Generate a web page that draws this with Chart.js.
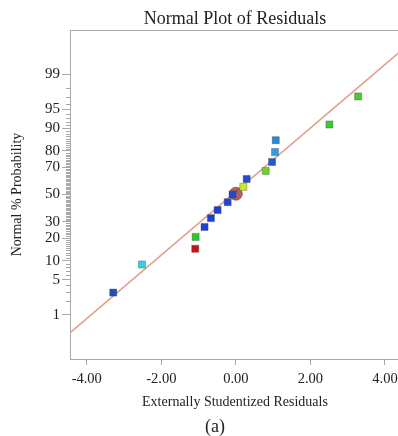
<html>
<head>
	<meta charset="utf-8">
	<title> Normal Plot of Residuals </title>
	<script src="https://cdn.jsdelivr.net/npm/chart.js@4.4.0/dist/chart.umd.min.js"></script>
	<style>
		body { margin: 0; background: #fff; }
		#wrap { position: relative; width: 398px; height: 436px; overflow: hidden; }
		#myChart { position: absolute; left: 0; top: 0; }
		.txt { position: absolute; font-family: "Liberation Serif", "Times New Roman", serif; color: #222; white-space: nowrap; transform: translate(-50%, -50%); }
	</style>
</head>
<body>
	<div id="wrap">
		<canvas id="myChart" width="420" height="436"></canvas>
		<div class="txt" style="left: 235px; top: 18px; font-size: 18px;">Normal Plot of Residuals</div>
		<div class="txt" style="left: 235px; top: 402px; font-size: 14px;">Externally Studentized Residuals</div>
		<div class="txt" style="left: 215px; top: 426px; font-size: 18px;">(a)</div>
	</div>

	<script>

		// Residus (tries) et probabilite normale (%)
		var residuals = [-3.29, -2.52, -1.09, -1.08, -0.84, -0.67, -0.49, -0.22, -0.09, 0.20, 0.29, 0.80, 0.97, 1.05, 1.07, 2.51, 3.28];
		var probability = [2.9, 8.8, 14.7, 20.6, 26.5, 32.4, 38.2, 44.1, 50.0, 55.9, 61.8, 67.6, 73.5, 79.4, 85.3, 91.2, 97.1];
		var pointColors = ['#1d4fc4', '#2fd3e6', '#c81414', '#2ec82e', '#1f3fd6', '#1f3fd6', '#1f3fd6', '#1f44d6', '#1f48d6',
			'#c4ec24', '#1f4ad6', '#6cd22a', '#1f5ad8', '#2a9ee8', '#2a86e0', '#3cc83c', '#4cc82c'];

		// point selectionne (cercle)
		var selectedX = [0.0];
		var selectedProb = [50.6];

		// droite normale
		var lineX = [-4.45, 4.94];
		var lineProb = [0.375, 99.90];

		// axes
		var xTicks = [-4, -2, 0, 2, 4];
		var yTickProbs = [1, 5, 10, 20, 30, 50, 70, 80, 90, 95, 99];
		var yTickLabels = ['1', '5', '10', '20', '30', '50', '70', '80', '90', '95', '99'];

		var fontFamily = '"Liberation Serif", "Times New Roman", serif';

		// inverse de la loi normale (Acklam)
		function probit(p) {
			var a = [-3.969683028665376e+01, 2.209460984245205e+02, -2.759285104469687e+02, 1.383577518672690e+02, -3.066479806614716e+01, 2.506628277459239e+00];
			var b = [-5.447609879822406e+01, 1.615858368580409e+02, -1.556989798598866e+02, 6.680131188771972e+01, -1.328068155288572e+01];
			var c = [-7.784894002430293e-03, -3.223964580411365e-01, -2.400758277161838e+00, -2.549732539343734e+00, 4.374664141464968e+00, 2.938163982698783e+00];
			var d = [7.784695709041462e-03, 3.224671290700398e-01, 2.445134137142996e+00, 3.754408661907416e+00];
			var pl = 0.02425, q, r;
			if (p < pl) {
				q = Math.sqrt(-2 * Math.log(p));
				return (((((c[0]*q+c[1])*q+c[2])*q+c[3])*q+c[4])*q+c[5]) / ((((d[0]*q+d[1])*q+d[2])*q+d[3])*q+1);
			}
			if (p > 1 - pl) {
				q = Math.sqrt(-2 * Math.log(1 - p));
				return -(((((c[0]*q+c[1])*q+c[2])*q+c[3])*q+c[4])*q+c[5]) / ((((d[0]*q+d[1])*q+d[2])*q+d[3])*q+1);
			}
			q = p - 0.5;
			r = q * q;
			return (((((a[0]*r+a[1])*r+a[2])*r+a[3])*r+a[4])*r+a[5])*q / (((((b[0]*r+b[1])*r+b[2])*r+b[3])*r+b[4])*r+1);
		}

		function toPoints(xs, probs) {
			var out = [];
			for (var i = 0; i < xs.length; i++) {
				out.push({ x: xs[i], y: probit(probs[i] / 100) });
			}
			return out;
		}

		// petites graduations de l'axe y (chaque %)
		var minorProbs = [];
		for (var k = 2; k < 99; k++) {
			if (yTickProbs.indexOf(k) < 0) minorProbs.push(k);
		}

		var framePlugin = {
			id: 'frame',
			afterDraw: function(chart) {
				var ctx = chart.ctx;
				var area = chart.chartArea;
				var yScale = chart.scales.y;
				ctx.save();
				ctx.strokeStyle = '#a8a8a8';
				ctx.lineWidth = 1;
				ctx.beginPath();
				ctx.moveTo(area.left, area.top + 0.5);
				ctx.lineTo(area.right, area.top + 0.5);
				for (var i = 0; i < minorProbs.length; i++) {
					var py = Math.round(yScale.getPixelForValue(probit(minorProbs[i] / 100))) + 0.5;
					ctx.moveTo(area.left - 4, py);
					ctx.lineTo(area.left, py);
				}
				ctx.stroke();
				ctx.restore();
			}
		};

		var ctx = document.getElementById('myChart').getContext('2d');
		var chart = new Chart(ctx, {
			type: 'scatter',
			data: {
				datasets: [{
					label: 'Residus',
					data: toPoints(residuals, probability),
					pointStyle: 'rect',
					pointRadius: 5,
					pointBackgroundColor: pointColors,
					pointBorderColor: 'rgba(70,70,70,0.35)',
					pointBorderWidth: 1,
					order: 0
				},
				{
					label: 'Selection',
					data: toPoints(selectedX, selectedProb),
					pointStyle: 'circle',
					pointRadius: 6.5,
					pointBackgroundColor: 'rgba(150,60,60,0.8)',
					pointBorderColor: 'rgba(120,50,50,0.6)',
					pointBorderWidth: 1,
					order: 1
				},
				{
					label: 'Droite',
					data: toPoints(lineX, lineProb),
					showLine: true,
					borderColor: '#e2a292',
					borderWidth: 1.5,
					pointRadius: 0,
					order: 2
				}]
			},
			options: {
				responsive: false,
				animation: false,
				events: [],
				layout: { autoPadding: false, padding: { top: 30, left: 0, right: 0, bottom: 0 } },
				plugins: {
					legend: { display: false },
					tooltip: { enabled: false }
				},
				scales: {
					x: {
						type: 'linear',
						min: -4.45,
						max: 4.94,
						afterBuildTicks: function(scale) {
							scale.ticks = xTicks.map(function(v) { return { value: v }; });
						},
						afterFit: function(scale) { scale.height = 77; },
						ticks: {
							callback: function(v) { return v.toFixed(2); },
							font: { family: fontFamily, size: 14.5 },
							color: '#222',
							padding: 5,
							maxRotation: 0
						},
						grid: { drawOnChartArea: false, tickLength: 6, tickColor: '#a8a8a8' },
						border: { color: '#a8a8a8' }
					},
					y: {
						type: 'linear',
						min: -3.18,
						max: 3.18,
						afterBuildTicks: function(scale) {
							scale.ticks = yTickProbs.map(function(p) { return { value: probit(p / 100) }; });
						},
						afterFit: function(scale) { scale.width = 70; },
						ticks: {
							callback: function(v, i) { return yTickLabels[i]; },
							font: { family: fontFamily, size: 15 },
							color: '#222',
							padding: 2,
							autoSkip: false
						},
						grid: { drawOnChartArea: false, tickLength: 8, tickColor: '#a8a8a8' },
						border: { color: '#a8a8a8' },
						title: {
							display: true,
							text: 'Normal % Probability',
							font: { family: fontFamily, size: 14 },
							color: '#222',
							padding: { top: 8.6, bottom: 0 }
						}
					}
				}
			},
			plugins: [framePlugin]
		});

	</script>
</body>
</html>
